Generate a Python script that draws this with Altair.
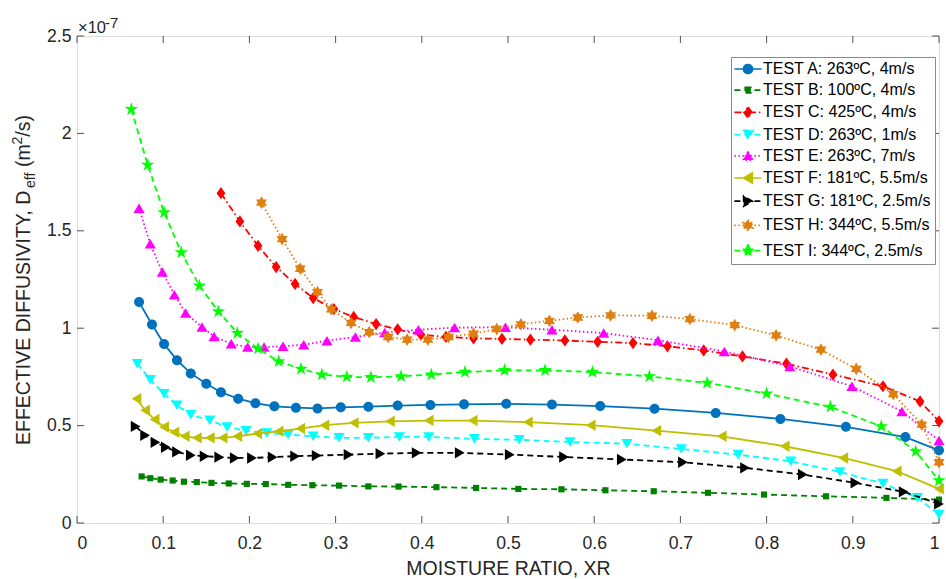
import altair as alt
import pandas as pd

# ---------------- data (D_eff in units of 1e-7 m2/s) ----------------
labels = [
    "TEST A: 263ºC, 4m/s", "TEST B: 100ºC, 4m/s", "TEST C: 425ºC, 4m/s",
    "TEST D: 263ºC, 1m/s", "TEST E: 263ºC, 7m/s", "TEST F: 181ºC, 5.5m/s",
    "TEST G: 181ºC, 2.5m/s", "TEST H: 344ºC, 5.5m/s", "TEST I: 344ºC, 2.5m/s",
]

A_x = [0.072, 0.087, 0.101, 0.116, 0.132, 0.150, 0.167, 0.187, 0.207, 0.229, 0.254, 0.279, 0.306, 0.338, 0.372, 0.410, 0.449, 0.498, 0.551, 0.607, 0.670, 0.741, 0.816, 0.892, 0.961, 1.0]
A_y = [1.134, 1.019, 0.919, 0.836, 0.768, 0.715, 0.671, 0.638, 0.615, 0.599, 0.592, 0.588, 0.594, 0.597, 0.603, 0.606, 0.609, 0.612, 0.608, 0.600, 0.587, 0.565, 0.534, 0.494, 0.441, 0.373]
B_x = [0.075, 0.085, 0.097, 0.111, 0.124, 0.139, 0.156, 0.176, 0.197, 0.219, 0.245, 0.273, 0.304, 0.338, 0.373, 0.417, 0.463, 0.512, 0.562, 0.613, 0.669, 0.732, 0.797, 0.869, 0.939, 1.0]
B_y = [0.239, 0.230, 0.223, 0.218, 0.212, 0.210, 0.206, 0.203, 0.201, 0.200, 0.196, 0.194, 0.192, 0.188, 0.187, 0.184, 0.180, 0.175, 0.173, 0.168, 0.163, 0.155, 0.146, 0.137, 0.129, 0.120]
C_x = [0.167, 0.189, 0.210, 0.231, 0.253, 0.274, 0.298, 0.321, 0.347, 0.372, 0.399, 0.428, 0.460, 0.493, 0.526, 0.566, 0.604, 0.645, 0.685, 0.727, 0.772, 0.823, 0.877, 0.935, 0.978, 1.0]
C_y = [1.693, 1.548, 1.423, 1.314, 1.227, 1.155, 1.098, 1.058, 1.021, 0.994, 0.967, 0.955, 0.948, 0.945, 0.941, 0.937, 0.930, 0.924, 0.907, 0.886, 0.855, 0.818, 0.762, 0.702, 0.624, 0.522]
D_x = [0.070, 0.085, 0.101, 0.116, 0.132, 0.154, 0.174, 0.196, 0.220, 0.245, 0.274, 0.304, 0.338, 0.374, 0.408, 0.461, 0.513, 0.572, 0.638, 0.701, 0.767, 0.828, 0.885, 0.935, 0.975, 1.0]
D_y = [0.818, 0.736, 0.664, 0.604, 0.556, 0.527, 0.493, 0.474, 0.462, 0.454, 0.445, 0.437, 0.437, 0.442, 0.442, 0.432, 0.427, 0.416, 0.407, 0.380, 0.351, 0.317, 0.262, 0.203, 0.129, 0.044]
E_x = [0.072, 0.085, 0.099, 0.113, 0.126, 0.145, 0.159, 0.179, 0.198, 0.217, 0.239, 0.263, 0.290, 0.323, 0.357, 0.396, 0.438, 0.497, 0.551, 0.611, 0.674, 0.751, 0.827, 0.899, 0.957, 1.0]
E_y = [1.616, 1.433, 1.288, 1.172, 1.078, 1.006, 0.958, 0.920, 0.903, 0.903, 0.907, 0.915, 0.936, 0.955, 0.978, 0.992, 1.003, 1.005, 0.992, 0.975, 0.938, 0.881, 0.804, 0.702, 0.573, 0.423]
F_x = [0.069, 0.079, 0.090, 0.101, 0.113, 0.125, 0.139, 0.154, 0.169, 0.186, 0.209, 0.234, 0.259, 0.287, 0.321, 0.363, 0.408, 0.459, 0.523, 0.596, 0.672, 0.748, 0.821, 0.889, 0.951, 1.0]
F_y = [0.638, 0.579, 0.531, 0.493, 0.466, 0.445, 0.437, 0.437, 0.437, 0.445, 0.459, 0.471, 0.485, 0.502, 0.514, 0.522, 0.526, 0.526, 0.518, 0.502, 0.474, 0.445, 0.394, 0.334, 0.266, 0.175]
G_x = [0.068, 0.079, 0.091, 0.103, 0.116, 0.132, 0.148, 0.165, 0.183, 0.203, 0.227, 0.253, 0.278, 0.315, 0.352, 0.394, 0.444, 0.502, 0.565, 0.632, 0.703, 0.775, 0.842, 0.903, 0.959, 1.0]
G_y = [0.496, 0.450, 0.414, 0.389, 0.365, 0.348, 0.343, 0.338, 0.334, 0.334, 0.338, 0.343, 0.346, 0.351, 0.356, 0.360, 0.360, 0.351, 0.339, 0.326, 0.312, 0.283, 0.249, 0.206, 0.160, 0.098]
H_x = [0.214, 0.238, 0.259, 0.279, 0.295, 0.318, 0.339, 0.361, 0.383, 0.407, 0.431, 0.460, 0.487, 0.515, 0.548, 0.581, 0.619, 0.667, 0.711, 0.763, 0.811, 0.863, 0.904, 0.947, 0.980, 1.0]
H_y = [1.645, 1.457, 1.305, 1.185, 1.097, 1.027, 0.980, 0.955, 0.941, 0.941, 0.955, 0.972, 0.996, 1.020, 1.038, 1.055, 1.066, 1.064, 1.047, 1.016, 0.963, 0.890, 0.791, 0.662, 0.505, 0.312]
I_x = [0.063, 0.082, 0.101, 0.121, 0.142, 0.164, 0.186, 0.210, 0.234, 0.260, 0.284, 0.313, 0.341, 0.376, 0.411, 0.450, 0.496, 0.543, 0.598, 0.664, 0.731, 0.800, 0.874, 0.933, 0.973, 1.0]
I_y = [2.124, 1.838, 1.594, 1.389, 1.218, 1.086, 0.975, 0.895, 0.830, 0.791, 0.762, 0.750, 0.748, 0.753, 0.762, 0.775, 0.784, 0.784, 0.775, 0.753, 0.719, 0.664, 0.596, 0.496, 0.368, 0.218]

x_ticks = [0, 0.1, 0.2, 0.3, 0.4, 0.5, 0.6, 0.7, 0.8, 0.9, 1.0]
y_ticks = [0, 0.5, 1.0, 1.5, 2.0, 2.5]

series_x = [A_x, B_x, C_x, D_x, E_x, F_x, G_x, H_x, I_x]
series_y = [A_y, B_y, C_y, D_y, E_y, F_y, G_y, H_y, I_y]

# ---------------- styles ----------------
colors = ["#0072BD", "#008000", "#FF0000", "#00FFFF", "#FF00FF", "#BFBF00", "#000000", "#E07F10", "#00FF00"]
dashes = [[1, 0], [6, 4], [7, 3, 1.5, 3], [6, 4], [1.5, 2.5], [1, 0], [6, 4], [1.5, 2.5], [6, 4]]
marker_sizes = [100, 38, 150, 125, 125, 130, 130, 160, 200]

def poly(pts, s=1.0):
    return "M" + "L".join(f"{x * s:.3f},{y * s:.3f}" for x, y in pts) + "Z"

def circ(r):
    return f"M{r:.3f},0A{r:.3f},{r:.3f},0,1,1,{-r:.3f},0A{r:.3f},{r:.3f},0,1,1,{r:.3f},0Z"

pent = [(0, -1), (0.2245, -0.309), (0.9511, -0.309), (0.3633, 0.118), (0.5878, 0.809), (0, 0.382),
        (-0.5878, 0.809), (-0.3633, 0.118), (-0.9511, -0.309), (-0.2245, -0.309)]
hexa = [(0, -1), (0.2887, -0.5), (0.866, -0.5), (0.577, 0), (0.866, 0.5), (0.2887, 0.5), (0, 1),
        (-0.2887, 0.5), (-0.866, 0.5), (-0.577, 0), (-0.866, -0.5), (-0.2887, -0.5)]
marker_pts = [
    None,
    [(-1, -1), (1, -1), (1, 1), (-1, 1)],
    [(0, -1), (0.72, 0), (0, 1), (-0.72, 0)],
    [(-1, -0.85), (1, -0.85), (0, 0.85)],
    [(0, -0.85), (1, 0.85), (-1, 0.85)],
    [(-0.85, 0), (0.85, -1), (0.85, 1)],
    [(0.85, 0), (-0.85, -1), (-0.85, 1)],
    hexa,
    pent,
]

def marker_path(i, s=1.0):
    if marker_pts[i] is None:
        return circ(s)
    return poly(marker_pts[i], s)

LEG_SIZE = 64  # legend symbol size -> 4 px per path unit
legend_paths = []
for i in range(9):
    s = (marker_sizes[i] ** 0.5 / 2) / 4 * 0.9
    legend_paths.append("M-3.4,0L3.4,0" + marker_path(i, s))

rows = []
for lab, xs_, ys_ in zip(labels, series_x, series_y):
    for a, b in zip(xs_, ys_):
        rows.append({"series": lab, "x": a, "y": b})
df = pd.DataFrame(rows)

# ---------------- chart ----------------
W, H = 862, 487
FONT = "Liberation Sans"
TXT = "#262626"
TICK = 7

xs = alt.Scale(domain=[0, 1], nice=False, zero=False)
ys = alt.Scale(domain=[0, 2.5], nice=False, zero=False)
x_axis = alt.Axis(values=x_ticks, format="~g", ticks=False, tickSize=0, domain=False, grid=False,
                  labelPadding=11, labelFontSize=17.6, labelFont=FONT, labelColor=TXT,
                  title="MOISTURE RATIO, XR", titleFont=FONT, titleFontSize=19.5,
                  titleFontWeight="normal", titleColor=TXT, titlePadding=8)
y_axis = alt.Axis(values=y_ticks, format="~g", ticks=False, tickSize=0, domain=False, grid=False,
                  labelPadding=6, labelFontSize=17.6, labelFont=FONT, labelColor=TXT, title=None)
X = alt.X("x:Q", scale=xs, axis=x_axis)
Y = alt.Y("y:Q", scale=ys, axis=y_axis)

layers = []

# inward tick marks on all four sides
xt = alt.Chart(pd.DataFrame({"x": x_ticks}))
yt = alt.Chart(pd.DataFrame({"y": y_ticks}))
layers.append(xt.mark_rule(color=TXT, strokeWidth=0.8).encode(x=X, y=alt.value(H), y2=alt.value(H - TICK)))
layers.append(xt.mark_rule(color=TXT, strokeWidth=0.8).encode(x=X, y=alt.value(0), y2=alt.value(TICK)))
layers.append(yt.mark_rule(color=TXT, strokeWidth=0.8).encode(y=Y, x=alt.value(0), x2=alt.value(TICK)))
layers.append(yt.mark_rule(color=TXT, strokeWidth=0.8).encode(y=Y, x=alt.value(W), x2=alt.value(W - TICK)))

for i, lab in enumerate(labels):
    base = alt.Chart(df).transform_filter(alt.datum.series == lab)
    line_kw = dict(color=colors[i], strokeWidth=1.8)
    if dashes[i] != [1, 0]:
        line_kw["strokeDash"] = dashes[i]
    layers.append(base.mark_line(**line_kw).encode(x=X, y=Y))
    layers.append(base.mark_point(shape=marker_path(i), size=marker_sizes[i], filled=True,
                                  color=colors[i], opacity=1).encode(x=X, y=Y))

leg = alt.Legend(title=None, orient="none", legendX=654, legendY=21,
                 symbolSize=LEG_SIZE, symbolStrokeWidth=1.7, symbolOpacity=1,
                 symbolOffset=5, labelOffset=7, labelFont=FONT, labelFontSize=16,
                 labelColor="#000000", labelLimit=400, padding=4, rowPadding=5.2,
                 strokeColor="#8a8a8a", fillColor="#ffffff", cornerRadius=0)
legend_layer = alt.Chart(df).mark_point(opacity=0, filled=True).encode(
    x=X, y=Y,
    fill=alt.Fill("series:N", scale=alt.Scale(domain=labels, range=colors), legend=leg),
    stroke=alt.Stroke("series:N", scale=alt.Scale(domain=labels, range=colors), legend=leg),
    shape=alt.Shape("series:N", scale=alt.Scale(domain=labels, range=legend_paths), legend=leg),
    strokeDash=alt.StrokeDash("series:N", scale=alt.Scale(domain=labels, range=dashes), legend=leg),
)
layers.append(legend_layer)

one = alt.Data(values=[{}])
def txt(text, x, y, size, angle=0):
    kw = dict(align="left", baseline="alphabetic", font=FONT, fontSize=size, color=TXT)
    if angle:
        kw["angle"] = angle
    return alt.Chart(one).mark_text(**kw).encode(x=alt.value(x), y=alt.value(y), text=alt.value(text))

# y-axis title with subscript / superscript
layers.append(txt("EFFECTIVE DIFFUSIVITY, D", -47, 409, 19.5, 270))
layers.append(txt("eff", -42, 152, 14, 270))
layers.append(txt("(m", -47, 131, 19.5, 270))
layers.append(txt("2", -55, 108.5, 14, 270))
layers.append(txt("/s)", -47, 100.7, 19.5, 270))
# exponent label
layers.append(txt("×10", 1, -3, 16.5))
layers.append(txt("-7", 28, -8, 15))

chart = alt.layer(*layers).properties(
    width=W, height=H,
    autosize=alt.AutoSizeParams(type="none"),
    padding={"left": 77, "top": 36, "right": 7, "bottom": 56},
).configure_view(stroke=TXT, strokeWidth=0.8).configure(background="white")

chart.save("out.html", embed_options={"renderer": "svg", "actions": False})
